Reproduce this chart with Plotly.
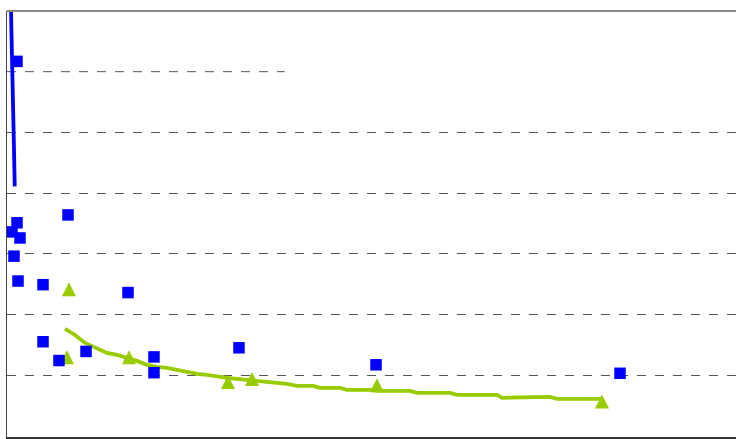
import plotly.graph_objects as go

# Blue squares (x, y)
sq_x = [1.37, 8.37, 1.37, 0.69, 1.78, 0.96, 1.51, 4.94, 16.6, 4.94, 10.84, 7.13, 20.16, 20.16, 31.82, 50.62, 84.09]
sq_y = [6.17, 3.64, 3.51, 3.36, 3.26, 2.96, 2.55, 2.49, 2.36, 1.55, 1.39, 1.24, 1.30, 1.04, 1.45, 1.17, 1.03]

# Green triangles (apex positions)
tri_x = [8.50, 8.23, 16.74, 30.32, 33.61, 50.75, 81.62]
tri_y = [2.53, 1.41, 1.41, 1.00, 1.05, 0.95, 0.68]

# Blue curve
bl_x = [0.40, 0.55, 0.75, 0.96, 1.06]
bl_y = [7.60, 7.00, 5.87, 4.72, 4.11]

# Green fitted curve (pixel readings converted to data units)
_g_px = [(65,329),(75,335),(85,343),(97,348),(107,353),(117,355),(127,358),(137,361),(147,365),
         (157,367),(167,368),(177,370),(187,372),(197,374),(207,375),(217,377),(227,378),(237,379),
         (247,380),(257,381),(267,382),(273,383),(287,384),(297,386),(313,386),(320,388),(340,388),
         (347,390),(370,390),(377,391),(410,391),(417,393),(450,393),(457,395),(497,395),(502,398),
         (550,397),(557,399),(602,399)]
gr_x = [round((p[0] - 7) / 7.29, 2) for p in _g_px]
gr_y = [round((437 - p[1]) / 60.857 - 0.015, 3) for p in _g_px]

fig = go.Figure()
fig.add_trace(go.Scatter(x=bl_x, y=bl_y, mode="lines",
                         line=dict(color="#0000ff", width=3.8, shape="spline")))
fig.add_trace(go.Scatter(x=gr_x, y=gr_y, mode="lines",
                         line=dict(color="#99cc00", width=3.8)))
fig.add_trace(go.Scatter(x=tri_x, y=tri_y, mode="markers",
                         marker=dict(symbol="arrow-up", size=14, color="#99cc00",
                                     line=dict(width=0))))
fig.add_trace(go.Scatter(x=sq_x, y=sq_y, mode="markers",
                         marker=dict(symbol="square", size=11.5, color="#0000ff",
                                     line=dict(width=0))))

fig.update_layout(
    width=736, height=439,
    margin=dict(l=7, r=0, t=11, b=2),
    paper_bgcolor="white", plot_bgcolor="white",
    showlegend=False,
    xaxis=dict(range=[0, 100], showgrid=False, zeroline=False, showticklabels=False,
               showline=True, linecolor="#333333", linewidth=2, ticks=""),
    yaxis=dict(range=[-0.02, 7], tickvals=[1, 2, 3, 4, 5], showgrid=True, griddash="dash",
               gridcolor="#555555", gridwidth=1, zeroline=False, showticklabels=False,
               showline=True, linecolor="#444444", linewidth=1, ticks=""),
    shapes=[
        dict(type="line", xref="paper", yref="paper", x0=0, x1=1, y0=1, y1=1,
             line=dict(color="#888888", width=2)),
        dict(type="line", xref="paper", yref="y", x0=0, x1=0.381, y0=6, y1=6,
             line=dict(color="#555555", width=1, dash="dash"), layer="below"),
    ],
)

fig.write_html("out.html")
